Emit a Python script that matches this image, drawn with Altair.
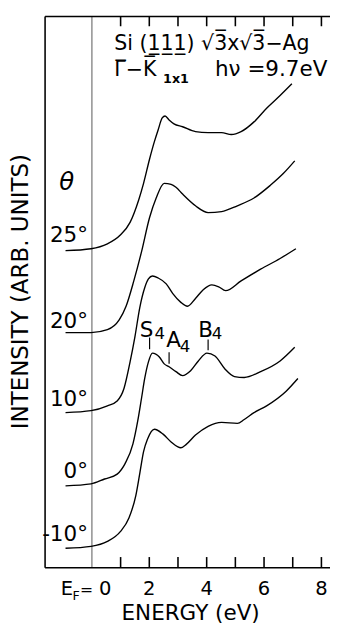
import altair as alt
import pandas as pd

FONT = "DejaVu Sans"

# ---- spectra: energy (eV) and intensity (arb. units) ----
angles = ["25°", "20°", "10°", "0°", "-10°"]

e_25 = [-0.92, -0.03, 0.54, 0.99, 1.33, 1.63, 1.80, 2.01, 2.18, 2.31, 2.45, 2.55,
        2.69, 2.86, 3.16, 3.61, 4.05, 4.52, 4.86, 5.20, 5.65, 6.09, 6.56, 6.97]
i_25 = [325, 327, 332, 341, 354, 377, 394, 419, 437, 449, 461, 463,
        459, 455, 452, 447, 446, 446, 444, 447, 457, 471, 484, 496]

e_20 = [-0.92, -0.03, 0.54, 0.95, 1.19, 1.46, 1.73, 2.01, 2.24, 2.52, 2.76,
        2.93, 3.16, 3.61, 4.05, 4.52, 5.07, 5.65, 6.22, 6.67, 7.07]
i_20 = [241, 241, 244, 254, 268, 294, 324, 359, 379, 394, 393,
        390, 383, 371, 364, 365, 371, 379, 392, 404, 417]

e_10 = [-0.92, -0.03, 0.54, 0.88, 1.12, 1.33, 1.50, 1.67, 1.84, 1.97, 2.11, 2.31, 2.59,
        2.82, 3.10, 3.33, 3.61, 3.88, 4.18, 4.42, 4.66, 5.20, 5.88, 6.56, 7.11]
i_10 = [159, 161, 166, 171, 184, 211, 237, 267, 287, 296, 299, 297, 291,
        281, 272, 268, 276, 285, 290, 288, 284, 294, 306, 317, 327]

e_0 = [-0.92, -0.03, 0.44, 0.88, 1.16, 1.43, 1.60, 1.73, 1.84, 1.97, 2.11, 2.35, 2.52,
       2.69, 2.93, 3.16, 3.44, 3.71, 4.01, 4.29, 4.63, 4.97, 5.31, 5.88, 6.56, 7.07]
i_0 = [84, 86, 91, 96, 107, 127, 151, 174, 194, 211, 220, 216, 209,
       206, 201, 197, 202, 212, 220, 217, 204, 196, 195, 201, 212, 226]

e_m10 = [-0.92, -0.03, 0.54, 0.99, 1.29, 1.53, 1.67, 1.80, 1.94, 2.18, 2.48, 2.76,
         3.10, 3.27, 3.61, 4.05, 4.52, 5.07, 5.31, 5.65, 6.09, 6.77, 7.18]
i_m10 = [20, 22, 27, 37, 51, 74, 97, 119, 132, 142, 137, 129,
         123, 126, 136, 145, 149, 148, 152, 159, 166, 181, 194]

# label levels of each angle (intensity units) and peak markers
angle_label_level = [334, 246, 166, 92, 27]
peak_names = ["S", "A", "B"]
peak_energy = [2.01, 2.69, 4.05]
peak_tick_low = [224, 209, 223]
peak_tick_high = [236, 221, 234]

tick_values = [1, 2, 3, 4, 5, 6, 7, 8]
tick_labels = ["2", "4", "6", "8"]
tick_label_values = [2, 4, 6, 8]

XMIN, XMAX = -1.633, 8.027
XEND = 8.3
YMAX = 565

xs = alt.Scale(domain=[XMIN, XMAX], nice=False, zero=False)
ys = alt.Scale(domain=[0, YMAX], nice=False, zero=False)

rows = []
for name, es, ins in zip(angles, [e_25, e_20, e_10, e_0, e_m10],
                         [i_25, i_20, i_10, i_0, i_m10]):
    for e, i in zip(es, ins):
        rows.append({"angle": name, "energy": e, "intensity": i})
df = pd.DataFrame(rows)

curves = alt.Chart(df).mark_line(
    color="black", strokeWidth=1.4, interpolate="monotone"
).encode(
    x=alt.X("energy:Q", scale=xs, axis=None),
    y=alt.Y("intensity:Q", scale=ys, axis=None),
    detail="angle:N",
)


def segs(xa, xb, ya, yb, width, color="black"):
    d = pd.DataFrame({"x": xa, "x2": xb, "y": ya, "y2": yb})
    return alt.Chart(d).mark_rule(color=color, strokeWidth=width).encode(
        x=alt.X("x:Q", scale=xs, axis=None), x2="x2:Q",
        y=alt.Y("y:Q", scale=ys, axis=None), y2="y2:Q",
    )


frame = segs([XMIN, XMIN, XMIN], [XMIN, XEND, XEND], [0, 0, YMAX], [YMAX, 0, YMAX], 1.6)
ef_line = segs([0], [0], [0], [YMAX], 1, color="#555")
ticks = segs(tick_values + tick_values, tick_values + tick_values,
             [0] * 8 + [YMAX - 10] * 8, [11] * 8 + [YMAX] * 8, 1.6)
peak_ticks = segs(peak_energy, peak_energy, peak_tick_low, peak_tick_high, 1.2)


def label(texts, es, ins, size, align="left", style="normal", weight="normal",
          angle=0, baseline="alphabetic"):
    d = pd.DataFrame({"t": texts, "e": es, "i": ins})
    return alt.Chart(d).mark_text(
        font=FONT, fontSize=size, align=align, baseline=baseline,
        fontStyle=style, fontWeight=weight, angle=angle, color="black"
    ).encode(
        x=alt.X("e:Q", scale=xs, axis=None),
        y=alt.Y("i:Q", scale=ys, axis=None),
        text="t:N",
    )


layers = [
    ef_line, frame, ticks, curves, peak_ticks,
    label(["θ"], [-0.88], [387], 25, align="center", style="italic"),
    label(angles, [-0.14] * 5, angle_label_level, 22, align="right"),
    label(["Si (1\u03321\u03321\u0332) √3\u0305x√3\u0305−Ag"], [0.78], [531], 21),
    label(["Γ\u0305−K\u0305"], [0.78], [504], 21),
    label(["1x1"], [2.48], [497], 13, weight="bold"),
    label(["hν =9.7eV"], [4.29], [504], 22),
    label(peak_names, [1.67, 2.59, 3.71], [237, 226, 237], 22),
    label(["4", "4", "4"], [2.18, 3.06, 4.18], [234, 221, 234], 17),
    label(tick_labels, tick_label_values, [-28] * 4, 20, align="center"),
    label(["E"], [-1.09], [-28], 20),
    label(["F"], [-0.68], [-33], 13),
    label(["="], [-0.19], [-28], 16, align="center"),
    label(["0"], [0.46], [-28], 20, align="center"),
    label(["ENERGY (eV)"], [3.44], [-53], 22, align="center"),
    label(["INTENSITY (ARB. UNITS)"], [-2.48], [283], 23.5, align="center",
          angle=270, baseline="middle"),
]

chart = alt.layer(*layers).properties(
    width=284, height=YMAX,
    padding={"left": 38, "top": 1, "right": 8, "bottom": 54},
    autosize=alt.AutoSizeParams(type="none"),
    background="white",
).configure_view(stroke=None)

chart.save("out.html", embed_options={"renderer": "svg", "actions": False})
